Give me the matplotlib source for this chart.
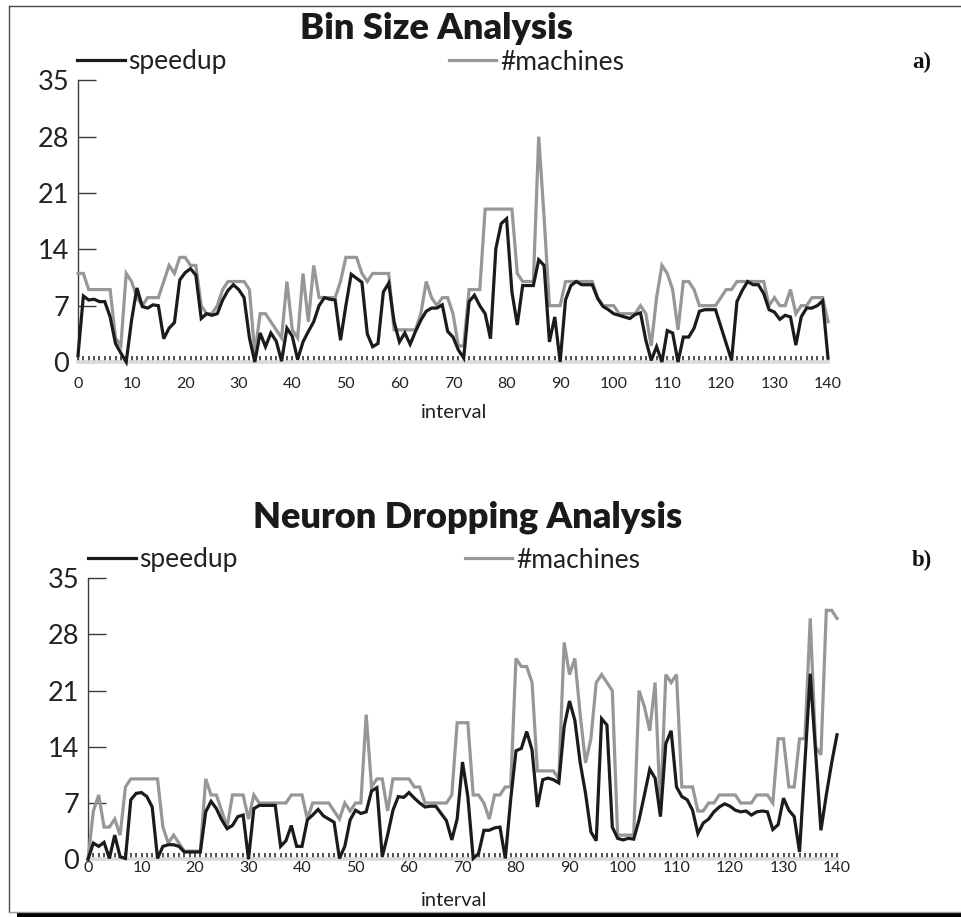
import matplotlib
matplotlib.use("Agg")
import matplotlib.pyplot as plt
from matplotlib import font_manager
from matplotlib.lines import Line2D
from matplotlib.patches import Rectangle

# ---------------------------------------------------------------- data
intervals = list(range(141))

bin_speedup = [
    0.8, 8.2, 7.7, 7.8, 7.5, 7.5, 5.6, 2.3, 1.1, 0.0,
    5.2, 9.2, 6.9, 6.7, 7.1, 7.0, 2.9, 4.2, 4.9, 10.2,
    11.1, 11.6, 10.8, 5.4, 6.0, 5.8, 6.0, 7.7, 8.9, 9.6,
    9.0, 8.0, 3.0, 0.0, 3.6, 1.9, 3.6, 2.6, 0.1, 4.2,
    3.2, 0.3, 2.5, 3.8, 5.0, 7.0, 8.0, 7.8, 7.7, 2.7,
    7.0, 10.9, 10.4, 9.9, 3.5, 1.9, 2.3, 8.7, 9.8, 5.0,
    2.5, 3.6, 2.2, 3.8, 5.2, 6.3, 6.7, 6.7, 7.1, 3.8,
    3.1, 1.5, 0.5, 7.5, 8.3, 7.0, 6.0, 2.9, 14.1, 17.2,
    17.8, 8.7, 4.6, 9.5, 9.5, 9.5, 12.7, 12.0, 2.5, 5.6,
    0.0, 7.7, 9.5, 10.0, 9.6, 9.6, 9.6, 7.9, 6.9, 6.5,
    6.0, 5.8, 5.6, 5.4, 5.9, 6.1, 2.7, 0.2, 1.9, 0.0,
    3.9, 3.6, 0.0, 3.1, 3.1, 4.2, 6.3, 6.5, 6.5, 6.5,
    4.4, 2.3, 0.2, 7.5, 8.9, 10.0, 9.6, 9.6, 8.5, 6.5,
    6.2, 5.3, 5.8, 5.6, 2.1, 5.6, 6.7, 6.7, 7.0, 7.6,
    0.5,
]

bin_machines = [
    11, 11, 9, 9, 9, 9, 9, 3, 2, 11,
    10, 8, 7, 8, 8, 8, 10, 12, 11, 13,
    13, 12, 12, 7, 6, 6, 7, 9, 10, 10,
    10, 10, 9, 1, 6, 6, 5, 4, 3, 10,
    4, 3, 11, 5, 12, 8, 8, 8, 8, 10,
    13, 13, 13, 11, 10, 11, 11, 11, 11, 4,
    4, 4, 4, 4, 6, 10, 8, 7, 8, 8,
    6, 2, 2, 9, 9, 9, 19, 19, 19, 19,
    19, 19, 11, 10, 10, 10, 28, 18, 7, 7,
    7, 10, 10, 10, 10, 10, 10, 8, 7, 7,
    7, 6, 6, 6, 6, 7, 6, 2, 8, 12,
    11, 9, 4, 10, 10, 9, 7, 7, 7, 7,
    8, 9, 9, 10, 10, 10, 10, 10, 10, 7,
    8, 7, 7, 9, 6, 7, 7, 8, 8, 8,
    5,
]

neuron_speedup = [
    0.0, 2.0, 1.6, 2.1, 0.1, 3.0, 0.3, 0.1, 7.4, 8.2,
    8.3, 7.8, 6.5, 0.1, 1.6, 1.8, 1.8, 1.6, 0.9, 0.9,
    0.9, 0.9, 5.9, 7.2, 6.3, 4.9, 3.8, 4.2, 5.3, 5.5,
    0.0, 6.3, 6.7, 6.7, 6.7, 6.7, 1.6, 2.3, 4.2, 1.6,
    1.6, 4.9, 5.5, 6.2, 5.4, 5.0, 4.6, 0.1, 1.6, 4.9,
    6.1, 5.7, 5.9, 8.5, 8.9, 0.3, 3.0, 6.1, 7.8, 7.7,
    8.3, 7.6, 7.0, 6.5, 6.6, 6.6, 5.7, 4.8, 2.4, 5.0,
    12.1, 7.8, 0.1, 0.7, 3.6, 3.6, 3.9, 4.0, 0.1, 7.4,
    13.5, 13.8, 15.9, 13.6, 6.5, 9.9, 10.1, 9.9, 9.5, 16.5,
    19.7, 17.3, 12.0, 8.2, 3.4, 2.3, 17.5, 16.7, 4.0, 2.6,
    2.4, 2.6, 2.5, 4.9, 8.0, 11.2, 10.1, 5.3, 14.4, 16.0,
    9.0, 7.8, 7.4, 6.1, 3.2, 4.5, 5.0, 5.9, 6.5, 6.9,
    6.6, 6.1, 5.9, 6.0, 5.5, 5.9, 6.0, 5.9, 3.7, 4.3,
    7.6, 6.1, 5.3, 0.9, 12.0, 23.1, 13.4, 3.6, 8.0, 12.0,
    15.5,
]

neuron_machines = [
    0, 6, 8, 4, 4, 5, 3, 9, 10, 10,
    10, 10, 10, 10, 4, 2, 3, 2, 1, 1,
    1, 1, 10, 8, 8, 6, 4, 8, 8, 8,
    5, 8, 7, 7, 7, 7, 7, 7, 8, 8,
    8, 5, 7, 7, 7, 7, 6, 5, 7, 6,
    7, 7, 18, 9, 10, 10, 6, 10, 10, 10,
    10, 9, 9, 7, 7, 7, 7, 7, 8, 17,
    17, 17, 8, 8, 7, 5, 8, 8, 9, 9,
    25, 24, 24, 22, 11, 11, 11, 11, 10, 27,
    23, 25, 18, 12, 15, 22, 23, 22, 21, 3,
    3, 3, 3, 21, 19, 16, 22, 6, 23, 22,
    23, 9, 9, 9, 6, 6, 7, 7, 8, 8,
    8, 8, 7, 7, 7, 8, 8, 8, 7, 15,
    15, 9, 9, 15, 15, 30, 14, 13, 31, 31,
    30,
]

y_ticks = [0, 7, 14, 21, 28, 35]
x_ticks = list(range(0, 141, 10))
series_labels = ["speedup", "#machines"]
titles = ["Bin Size Analysis", "Neuron Dropping Analysis"]
panel_tags = ["a)", "b)"]
x_label = "interval"

# ---------------------------------------------------------------- fonts
available = {f.name for f in font_manager.fontManager.ttflist}


def first_font(*names):
    for n in names:
        if n in available:
            return n
    return "DejaVu Sans"


SANS = first_font("Lato", "Roboto", "Liberation Sans")
SERIF = first_font("Liberation Serif", "DejaVu Serif")

BLACK = "#1b1b1b"
GREY = "#979797"
TEXT = "#222222"

W, H = 961, 917
fig = plt.figure(figsize=(W / 100, H / 100), dpi=100)


def fx(px):
    return px / W


def fy(py):
    return (H - py) / H


def make_panel(rect, speed, machines, xpad, title, title_xy, legend_xy, colspace, tag_xy, tag, xlabel_xy):
    left, top, right, bottom = rect
    ax = fig.add_axes([fx(left), fy(bottom), fx(right) - fx(left), fy(top) - fy(bottom)])
    ax.set_xlim(0, 140)
    ax.set_ylim(0, 35)
    ax.patch.set_alpha(0)

    grey_line, = ax.plot(intervals, machines, color=GREY, lw=2.3, zorder=5,
                         clip_on=False, solid_joinstyle="miter")
    black_line, = ax.plot(intervals, speed, color=BLACK, lw=2.3, zorder=6,
                          clip_on=False, solid_joinstyle="miter")

    for s in ("top", "right"):
        ax.spines[s].set_visible(False)
    ax.spines["left"].set_color("#3a3a3a")
    ax.spines["left"].set_linewidth(1.0)
    ax.spines["bottom"].set_color("#dadada")
    ax.spines["bottom"].set_linewidth(2.6)

    ax.set_yticks(y_ticks)
    ax.set_xticks(x_ticks)
    ax.set_xticks(intervals, minor=True)
    ax.tick_params(axis="y", direction="in", length=13, width=1.0, color="#3a3a3a",
                   pad=6.5, labelsize=19.5, labelcolor=TEXT)
    ax.tick_params(axis="x", which="both", direction="in", length=4.2, width=1.1,
                   color="#222222", pad=xpad, labelsize=11.5, labelcolor=TEXT)
    for lab in ax.get_yticklabels() + ax.get_xticklabels():
        lab.set_fontfamily(SANS)

    fig.text(fx(title_xy[0]), fy(title_xy[1]), title, ha="center", va="baseline",
             fontsize=26, fontweight="heavy", family=SANS, color="#1a1a1a")
    fig.text(fx(tag_xy[0]), fy(tag_xy[1]), tag, ha="center", va="center",
             fontsize=16.5, fontweight="bold", family=SERIF, color="#111111")
    fig.text(fx(xlabel_xy[0]), fy(xlabel_xy[1]), x_label, ha="center", va="center",
             fontsize=14.5, family=SANS, color=TEXT)

    ax.legend([black_line, grey_line], series_labels, ncol=2, loc="center left",
              bbox_to_anchor=(fx(legend_xy[0]), fy(legend_xy[1])),
              bbox_transform=fig.transFigure, frameon=False, borderpad=0,
              borderaxespad=0, handlelength=1.8, handletextpad=0.15,
              columnspacing=colspace, labelcolor=TEXT,
              prop={"family": SANS, "size": 19})
    return ax


make_panel((78, 80.3, 828, 362), bin_speedup, bin_machines, xpad=11,
           title=titles[0], title_xy=(436, 39), legend_xy=(77, 62), colspace=8.4,
           tag_xy=(922, 62), tag=panel_tags[0], xlabel_xy=(454, 412))

make_panel((88, 578.2, 837, 859.2), neuron_speedup, neuron_machines, xpad=1.5,
           title=titles[1], title_xy=(468, 527), legend_xy=(88, 560), colspace=8.6,
           tag_xy=(922, 560), tag=panel_tags[1], xlabel_xy=(454, 900))

# page frame with a drop shadow along the foot
frame_kw = dict(transform=fig.transFigure, color="#4a4a4a", lw=1.0)
fig.add_artist(Line2D([fx(8.5), fx(8.5)], [fy(5.5), fy(911.5)], **frame_kw))
fig.add_artist(Line2D([fx(8.5), 1.0], [fy(5.5), fy(5.5)], **frame_kw))
fig.add_artist(Line2D([fx(8.5), 1.0], [fy(911.5), fy(911.5)],
                      transform=fig.transFigure, color="#9a9a9a", lw=1.0))
fig.add_artist(Rectangle((fx(17), 0), 1.0 - fx(17), 4.5 / H,
                         transform=fig.transFigure, color="black", lw=0))

fig.savefig("out.png", dpi=100)
